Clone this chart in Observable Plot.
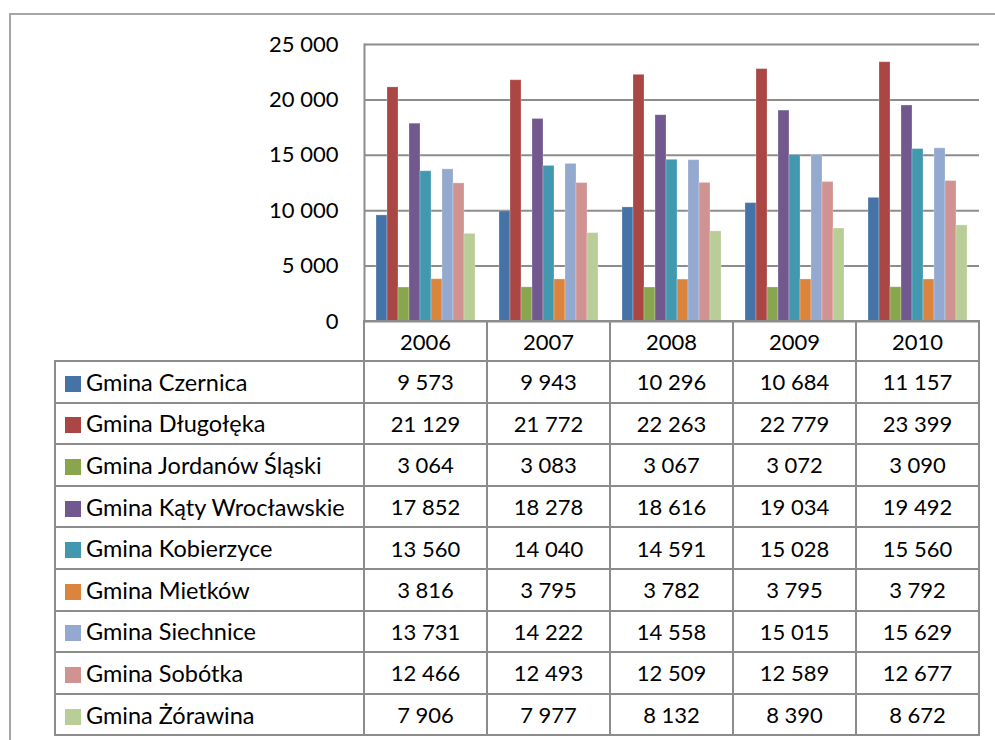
<!DOCTYPE html>
<html><head><meta charset="utf-8">
<script src="https://cdn.jsdelivr.net/npm/d3@7"></script>
<script src="https://cdn.jsdelivr.net/npm/@observablehq/plot@0.6"></script>
<style>
body{margin:0;background:#fff;}
#wrap{position:relative;width:995px;height:740px;overflow:hidden;font-family:Lato,sans-serif;}
#frame{position:absolute;left:9px;top:13px;width:1000px;height:800px;border-left:2px solid #a6a6a6;border-top:2px solid #a6a6a6;}
#chart{position:absolute;left:0;top:0;}
#tbl{position:absolute;border-collapse:collapse;table-layout:fixed;font-size:22px;color:#000;}
#tbl td{border:2px solid #8c8c8c;padding:0;text-align:center;white-space:nowrap;overflow:hidden;}
#tbl td.lab{text-align:left;padding-left:9px;font-size:23.5px;}
#tbl td.blank{border:none;}
.sw{display:inline-block;width:16px;height:16px;margin-right:5px;vertical-align:-1px;}
</style></head>
<body>
<div id="wrap"><div id="frame"></div><div id="chart"></div></div>
<script>
const years = ["2006", "2007", "2008", "2009", "2010"];
const gminas = ["Gmina Czernica", "Gmina Długołęka", "Gmina Jordanów Śląski", "Gmina Kąty Wrocławskie",
  "Gmina Kobierzyce", "Gmina Mietków", "Gmina Siechnice", "Gmina Sobótka", "Gmina Żórawina"];
const colors = ["#4572A7", "#AA4643", "#89A54E", "#71588F", "#4198AF", "#DB843D", "#93A9CF", "#D19392", "#B9CD96"];
const czernica   = [9573, 9943, 10296, 10684, 11157];
const dlugoleka  = [21129, 21772, 22263, 22779, 23399];
const jordanow   = [3064, 3083, 3067, 3072, 3090];
const katy       = [17852, 18278, 18616, 19034, 19492];
const kobierzyce = [13560, 14040, 14591, 15028, 15560];
const mietkow    = [3816, 3795, 3782, 3795, 3792];
const siechnice  = [13731, 14222, 14558, 15015, 15629];
const sobotka    = [12466, 12493, 12509, 12589, 12677];
const zorawina   = [7906, 7977, 8132, 8390, 8672];
const yTicks = [0, 5000, 10000, 15000, 20000, 25000];

const series = [czernica, dlugoleka, jordanow, katy, kobierzyce, mietkow, siechnice, sobotka, zorawina];
const data = [];
gminas.forEach((g, i) => years.forEach((y, j) => data.push({gmina: g, year: y, value: series[i][j]})));

const fmt = d3.formatLocale({decimal: ",", thousands: "\u00a0", grouping: [3], currency: ["", ""]}).format(",d");

const chart = Plot.plot({
  width: 995, height: 322,
  marginLeft: 362, marginRight: 15, marginTop: 44, marginBottom: 1,
  style: {fontFamily: "Lato, sans-serif", fontSize: "22px", color: "#000", background: "transparent", overflow: "visible"},
  fx: {domain: years, padding: 0, axis: null, label: null},
  x: {domain: gminas, axis: null, paddingInner: 0, paddingOuter: 0.8},
  y: {domain: [0, 25000], label: null, axis: null},
  color: {domain: gminas, range: colors},
  marks: [
    Plot.gridY(yTicks, {stroke: "#8c8c8c", strokeOpacity: 1, strokeWidth: 2}),
    Plot.axisY(yTicks, {tickSize: 0, tickPadding: 26, tickFormat: fmt, fontSize: 22, facetAnchor: "left"}),
    Plot.frame({anchor: "left", facetAnchor: "left", stroke: "#8c8c8c", strokeWidth: 2}),
    Plot.barY(data, {fx: "year", x: "gmina", y: "value", fill: "gmina", stroke: "#fff", strokeOpacity: 0.25, strokeWidth: 1})
  ]
});
document.getElementById("chart").appendChild(chart);

// data table below the chart, columns aligned with the fx scale
const fx = chart.scale("fx");
const colLeft = years.map(y => fx.apply(y));
const tableLeft = 55;
const tbl = document.createElement("table");
tbl.id = "tbl";
tbl.style.left = (tableLeft - 1) + "px";
tbl.style.top = "320px";
const labW = colLeft[0] - tableLeft;
tbl.style.width = (labW + fx.bandwidth * years.length) + "px";
let html = `<colgroup><col style="width:${labW}px">` + years.map(() => `<col style="width:${fx.bandwidth}px">`).join("") + `</colgroup>`;
html += `<tr style="height:40px"><td class="blank"></td>` + years.map(y => `<td>${y}</td>`).join("") + `</tr>`;
const cscale = chart.scale("color");
gminas.forEach((g, i) => {
  html += `<tr style="height:41.6px"><td class="lab"><span class="sw" style="background:${cscale.apply(g)}"></span>${g}</td>` +
    series[i].map(v => `<td>${fmt(v)}</td>`).join("") + `</tr>`;
});
tbl.innerHTML = html;
document.getElementById("wrap").appendChild(tbl);
</script>
</body></html>
